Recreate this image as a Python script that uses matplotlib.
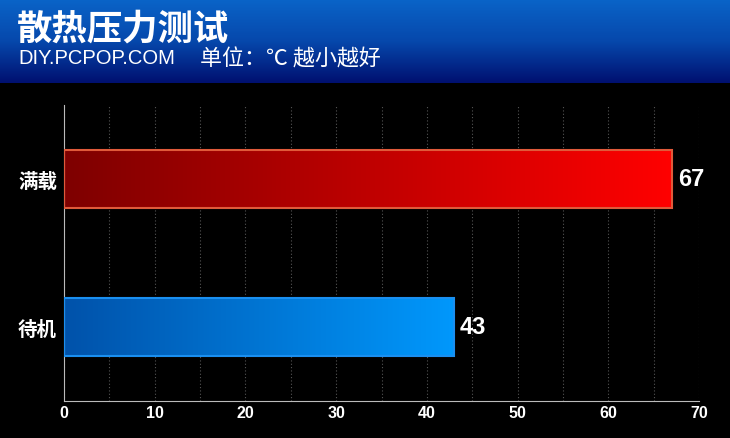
import numpy as np
import matplotlib
matplotlib.use("Agg")
import matplotlib.pyplot as plt
from matplotlib.colors import LinearSegmentedColormap

plt.rcParams['font.family'] = ['Liberation Sans', 'Noto Sans CJK SC', 'DejaVu Sans']

categories = ["待机", "满载"]
values = [43, 67]
title = "散热压力测试"
site = "DIY.PCPOP.COM"
unit_note = "单位：℃ 越小越好"
xticks = [0, 10, 20, 30, 40, 50, 60, 70]

bar_cmaps = [
    LinearSegmentedColormap.from_list("blue", ["#0052aa", "#0098fc"]),
    LinearSegmentedColormap.from_list("red", ["#7e0000", "#ff0000"]),
]
bar_edges = ["#1a8ff0", "#e05a3a"]

W, H = 730, 439
fig = plt.figure(figsize=(W / 100, H / 100), dpi=100, facecolor="black")

# header band
hdr_h = 84
hax = fig.add_axes([0, 1 - hdr_h / H, 1, hdr_h / H])
hdr_cmap = LinearSegmentedColormap.from_list("hdr", ["#0a64c8", "#0648ac", "#001070"])
hax.imshow(np.linspace(0, 1, 100).reshape(-1, 1), aspect="auto", cmap=hdr_cmap,
           extent=[0, 1, 0, 1])
hax.set_axis_off()
fig.text(17 / W, 1 - 29 / H, title, color="white", fontsize=25.5, fontweight="bold",
         va="center", ha="left", family=["Noto Sans CJK SC"])
fig.text(18 / W, 1 - 59 / H, site, color="white", fontsize=14.5, va="center", ha="left")
fig.text(200 / W, 1 - 59 / H, unit_note, color="white", fontsize=15.8, va="center", ha="left",
         family=["Noto Sans CJK SC", "DejaVu Sans"])

# plot area
left, right, top, bottom = 64, 699, 106, 402
ax = fig.add_axes([left / W, 1 - bottom / H, (right - left) / W, (bottom - top) / H])
ax.set_facecolor("black")

ypos = np.arange(len(categories))
bh = 0.39
bars = ax.barh(ypos, values, height=bh, color="none", zorder=3)
grad = np.linspace(0, 1, 256).reshape(1, -1)
for b, cm, ec in zip(bars, bar_cmaps, bar_edges):
    x0, y0 = b.get_x(), b.get_y()
    w, h = b.get_width(), b.get_height()
    im = ax.imshow(grad, aspect="auto", cmap=cm, extent=[x0, x0 + w, y0, y0 + h], zorder=2)
    im.set_clip_path(b)
    b.set_edgecolor(ec)
    b.set_linewidth(1.5)
    ax.text(x0 + w + 0.65, y0 + h / 2, str(int(w)), color="white", fontsize=17,
            fontweight="bold", va="center", ha="left")
ax.set_xlim(0, 70)
ax.set_ylim(-0.5, 1.5)

ax.set_xticks(xticks)
ax.set_xticklabels([str(t) for t in xticks], color="white", fontsize=11.5, fontweight="bold")
ax.set_xticks(np.arange(0, 71, 5), minor=True)
ax.grid(axis="x", which="both", color="#555555", linestyle=(0, (1, 2)), linewidth=0.8, zorder=0)
ax.set_axisbelow(True)
ax.set_yticks(ypos)
ax.set_yticklabels(categories, color="white", fontsize=14, fontweight="bold",
                   family=["Noto Sans CJK SC"])
ax.tick_params(axis="both", which="both", length=0)
ax.tick_params(axis="y", pad=5)
ax.tick_params(axis="x", pad=3)
for s in ["top", "right"]:
    ax.spines[s].set_visible(False)
ax.spines["left"].set_color("#bbbbbb")
ax.spines["bottom"].set_color("#bbbbbb")

fig.savefig("out.png", dpi=100, facecolor="black")
